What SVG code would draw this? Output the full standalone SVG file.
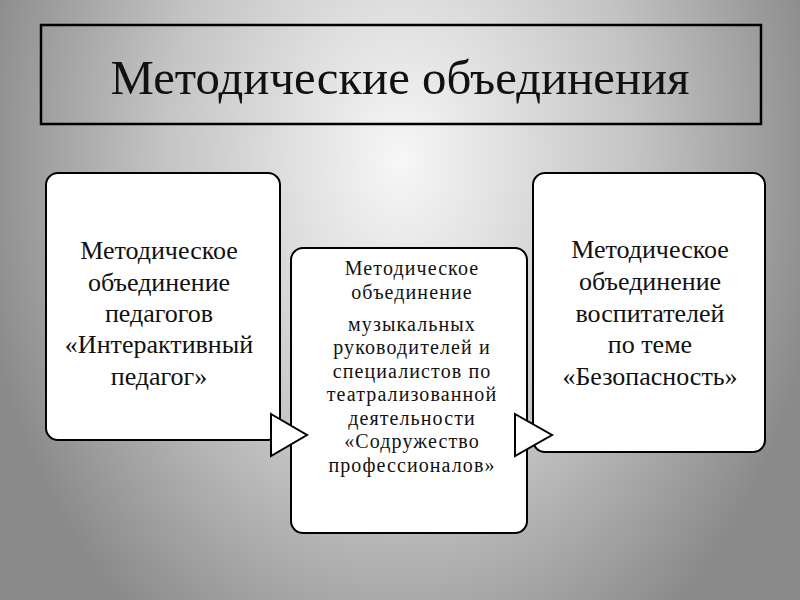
<svg xmlns="http://www.w3.org/2000/svg" width="800" height="600" viewBox="0 0 800 600">
<defs>
<radialGradient id="bg" gradientUnits="userSpaceOnUse" cx="400" cy="160" r="430" gradientTransform="translate(400 160) scale(1 1.35) translate(-400 -160)">
<stop offset="0" stop-color="#f7f7f7"/>
<stop offset="0.55" stop-color="#c4c4c4"/>
<stop offset="1" stop-color="#8a8a8a"/>
</radialGradient>
<style>
.box{fill:#fff;stroke:#000;stroke-width:2}
.arr{fill:#fff;stroke:#000;stroke-width:2;stroke-linejoin:miter}
.t{font-family:"Liberation Serif","Times New Roman",serif;fill:#111;text-anchor:middle}
.big{font-size:26px}
.mid{font-size:20px;letter-spacing:1.1px}
</style>
</defs>
<rect x="0" y="0" width="800" height="600" fill="url(#bg)"/>
<g id="title">
<rect x="41" y="25" width="720" height="99" fill="none" stroke="#000" stroke-width="2.5"/>
<text class="t" x="400" y="94" font-size="49" textLength="579" lengthAdjust="spacingAndGlyphs">Методические объединения</text>
</g>
<g id="node-left">
<rect class="box" x="46" y="173" width="234" height="267" rx="12"/>
<text class="t big" x="159"><tspan x="159" y="259">Методическое</tspan><tspan x="159" y="291">объединение</tspan><tspan x="159" y="322">педагогов</tspan><tspan x="159" y="353">«Интерактивный</tspan><tspan x="159" y="385">педагог»</tspan></text>
</g>
<g id="node-middle">
<rect class="box" x="291" y="248" width="236" height="285" rx="12"/>
<text class="t mid" x="412"><tspan x="412" y="275">Методическое</tspan><tspan x="412" y="299">объединение</tspan><tspan x="412" y="331">музыкальных</tspan><tspan x="412" y="354">руководителей и</tspan><tspan x="412" y="378">специалистов по</tspan><tspan x="412" y="401">театрализованной</tspan><tspan x="412" y="425">деятельности</tspan><tspan x="412" y="448">«Содружество</tspan><tspan x="412" y="472">профессионалов»</tspan></text>
</g>
<g id="node-right">
<rect class="box" x="533" y="173" width="232" height="279" rx="12"/>
<text class="t big" x="650"><tspan x="650" y="258">Методическое</tspan><tspan x="650" y="290">объединение</tspan><tspan x="650" y="322">воспитателей</tspan><tspan x="650" y="353">по теме</tspan><tspan x="650" y="385">«Безопасность»</tspan></text>
</g>
<g id="connectors">
<polygon class="arr" points="271,414 307,435 271,456"/>
<polygon class="arr" points="515,414 552,435 515,456"/>
</g>
</svg>
